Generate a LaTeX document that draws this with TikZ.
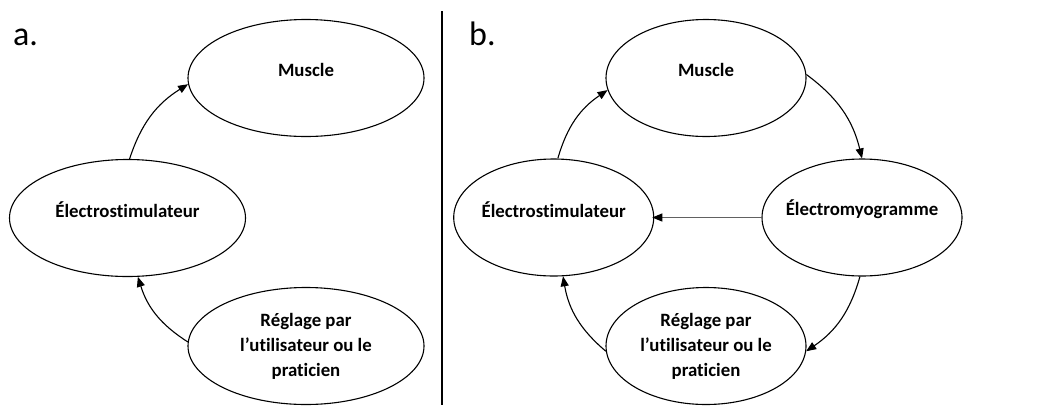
\documentclass[tikz,border=0pt]{standalone}
\usepackage{fontspec}
\setmainfont{Carlito}[Ligatures={NoCommon}]
\usetikzlibrary{shapes.geometric,arrows.meta}
\tikzset{
  oval/.style={ellipse,draw,line width=1.1pt,inner sep=0pt,minimum width=236pt,minimum height=117pt,font=\bfseries\fontsize{18.8}{25}\selectfont,align=center},
  ovalb/.style={oval,minimum width=200pt},
  toptext/.style={label={[font=\bfseries\fontsize{18.8}{25}\selectfont,yshift=8pt]center:#1}},
  conn/.style={line width=1.1pt,-{Triangle[length=10pt,width=8pt]}},
  panel/.style={font=\fontsize{34}{40}\selectfont,anchor=base west,inner sep=0pt}
}
\begin{document}
\begin{tikzpicture}[x=1pt,y=-1pt]
\useasboundingbox (0,0) rectangle (1056,405);
% panel labels
\node[panel] (la) at (13,45) {a.};
\node[panel] (lb) at (469,45) {b.};
% divider
\coordinate (d1) at (442,11);
\coordinate (d2) at (442,405);
\draw[line width=1.1pt] (d1) -- (d2);
% panel a
\node[oval,toptext=Muscle] (mA) at (306,78) {};
\node[oval,toptext=Électrostimulateur] (eA) at (127.5,218) {};
\node[oval] (rA) at (306,346) {Réglage par\\l’utilisateur ou le\\praticien};
\draw[conn] (eA.88) to[bend left=20] (mA.183);
\draw[conn] (rA.178) to[bend left=20] (eA.-80);
% panel b
\node[ovalb,toptext=Muscle] (mB) at (706,78) {};
\node[ovalb,toptext=Électrostimulateur] (eB) at (553.7,217.5) {};
\node[ovalb,toptext=Électromyogramme] (yB) at (862,217.5) {};
\node[ovalb] (rB) at (706,346) {Réglage par\\l’utilisateur ou le\\praticien};
\draw[conn] (eB.86) to[bend left=20] (mB.187);
\draw[conn] (mB.2) to[bend left=20] (yB.north);
\draw[conn] (yB.-92) to[bend left=20] (rB.-3);
\draw[conn] (rB.183) to[bend left=20] (eB.-81);
\draw[line width=1.1pt,draw=black!62,-{Triangle[length=10pt,width=8pt,color=black]}] (yB.west) -- ([xshift=-2pt]eB.east);
\end{tikzpicture}
\end{document}
